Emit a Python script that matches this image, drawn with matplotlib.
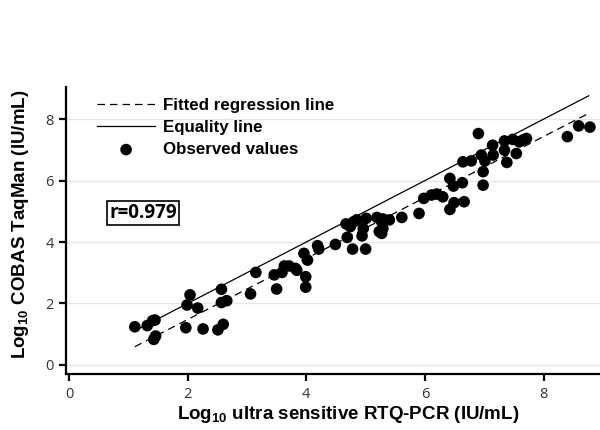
import numpy as np
import matplotlib
matplotlib.use("Agg")
import matplotlib.pyplot as plt

# ── Data ───────────────────────────────────────────────────────────────
rtq_pcr = [1.11, 1.32, 1.41, 1.45, 1.46, 1.43, 1.97, 2.04, 1.99, 2.17, 2.26, 2.51,
           2.60, 2.57, 2.57, 2.66, 3.06, 3.15, 3.46, 3.50, 3.59, 3.63, 3.71, 3.82,
           3.84, 3.96, 4.02, 3.99, 3.99, 4.19, 4.21, 4.49, 4.67, 4.69, 4.74, 4.80,
           4.85, 4.78, 5.00, 4.96, 4.94, 5.01, 5.19, 5.23, 5.27, 5.29, 5.27, 5.29,
           5.40, 5.61, 5.90, 5.98, 6.11, 6.20, 6.30, 6.42, 6.48, 6.63, 6.42, 6.49,
           6.66, 6.64, 6.78, 6.90, 6.95, 7.01, 6.98, 6.98, 7.14, 7.15, 7.34, 7.34,
           7.38, 7.48, 7.54, 7.59, 7.65, 7.71, 8.40, 8.59, 8.78]
taqman = [1.24, 1.28, 1.44, 1.46, 0.94, 0.83, 1.21, 2.28, 1.95, 1.85, 1.17, 1.14,
          1.32, 2.46, 2.03, 2.09, 2.31, 3.01, 2.93, 2.47, 3.01, 3.22, 3.22, 3.14,
          3.08, 3.63, 3.41, 2.87, 2.53, 3.88, 3.77, 3.92, 4.59, 4.15, 4.50, 4.66,
          4.72, 3.77, 3.77, 4.44, 4.20, 4.77, 4.80, 4.34, 4.28, 4.44, 4.66, 4.75,
          4.72, 4.80, 4.93, 5.42, 5.53, 5.56, 5.47, 6.07, 5.82, 5.93, 5.06, 5.28,
          5.31, 6.61, 6.64, 7.53, 6.83, 6.64, 6.29, 5.85, 7.15, 6.83, 7.29, 6.99,
          6.59, 7.34, 6.88, 7.26, 7.32, 7.37, 7.43, 7.78, 7.74]

line_x = [1.11, 8.76]
fit_slope = 0.993
fit_intercept = -0.51
r_value = 0.979

TICKS = [0, 2, 4, 6, 8]

# ── Style ──────────────────────────────────────────────────────────────
plt.rcParams.update({
    "font.family": "Liberation Sans",
    "mathtext.default": "regular",
})

fig = plt.figure(figsize=(6, 4.3), dpi=100)
ax = fig.add_axes([0.11, 0.13, 0.89, 0.668])

xs = np.array(line_x)
ax.plot(xs, fit_slope * xs + fit_intercept, color="black", lw=0.9,
        dashes=(6, 4), label="Fitted regression line", zorder=3)
ax.plot(xs, xs, color="black", lw=0.9, label="Equality line", zorder=3)
ax.scatter(rtq_pcr, taqman, s=70, color="black", edgecolors="none",
           label="Observed values", zorder=4)

ax.set_xlim(-0.05, 8.95)
ax.set_ylim(-0.3, 9.05)
ax.set_xticks(TICKS)
ax.set_yticks(TICKS)
ax.grid(axis="y", color="#e6e6e6", lw=1, zorder=0)
ax.set_axisbelow(True)

for s in ["top", "right"]:
    ax.spines[s].set_visible(False)
for s in ["left", "bottom"]:
    ax.spines[s].set_linewidth(1.6)
ax.tick_params(direction="out", length=5, width=1.6, labelsize=10.5,
               labelcolor="#333333", pad=4)
for lbl in ax.get_xticklabels() + ax.get_yticklabels():
    lbl.set_fontfamily("Open Sans")

ax.set_xlabel("Log$_{10}$ ultra sensitive RTQ-PCR (IU/mL)", fontsize=13.5,
              fontweight="bold")
ax.set_ylabel("Log$_{10}$ COBAS TaqMan (IU/mL)", fontsize=13.5,
              fontweight="bold")
ax.xaxis.set_label_coords(0.528, -0.105)
ax.yaxis.set_label_coords(-0.066, 0.52)

ax.legend(loc="upper left", bbox_to_anchor=(0.03, 1.015), frameon=False,
          handlelength=3.4, handletextpad=0.5, labelspacing=0.42,
          prop={"weight": "bold", "size": 12.2})

ax.text(0.144, 0.56, f"r={r_value:.3f}", transform=ax.transAxes, ha="center",
        va="center", fontsize=13.5, fontweight="bold", family="Open Sans",
        bbox=dict(boxstyle="square,pad=0.12", fc="white", ec="black", lw=1.2))

fig.savefig("out.png", dpi=100)
